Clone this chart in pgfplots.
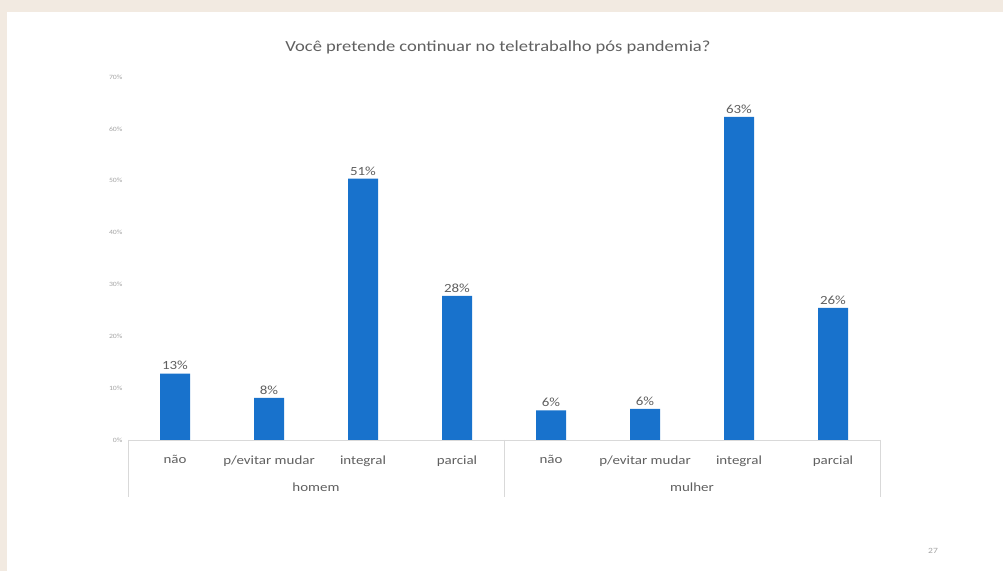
\documentclass[border=0pt]{standalone}
\usepackage{pgfplots}
\pgfplotsset{compat=1.18}
\usepackage{fontspec}
\setmainfont{Carlito}[FakeStretch=1.2]
\definecolor{barblue}{RGB}{24,114,204}
\definecolor{bgbeige}{RGB}{242,234,225}
\definecolor{txtgray}{RGB}{96,96,96}
\definecolor{ticklgray}{RGB}{165,165,165}
\definecolor{linegray}{RGB}{217,217,217}
\begin{document}
\begin{tikzpicture}
\useasboundingbox (0,0) rectangle (1003bp,571bp);
\fill[bgbeige] (0,0) rectangle (1003bp,571bp);
\fill[white] (7bp,0) rectangle (1003bp,559bp);
\node[text=txtgray, font=\fontsize{15.5}{19}\selectfont] at (498bp,524bp) {Você pretende continuar no teletrabalho pós pandemia?};
\node[text=ticklgray, font=\fontsize{8}{9}\selectfont] at (933bp,20bp) {27};
\begin{axis}[
  at={(128bp,131bp)}, anchor=south west,
  scale only axis, width=752bp, height=363bp,
  xmin=-0.5, xmax=7.5, ymin=0, ymax=70,
  clip=false,
  axis line style={draw=none},
  axis x line*=bottom,
  ytick={0,10,20,30,40,50,60,70},
  yticklabels={0\%,10\%,20\%,30\%,40\%,50\%,60\%,70\%},
  yticklabel style={text=ticklgray, font=\fontsize{6.5}{7}\selectfont, xshift=-2bp},
  xtick={0,1,2,3,4,5,6,7},
  xticklabels={não,p/evitar mudar,integral,parcial,não,p/evitar mudar,integral,parcial},
  xticklabel style={text=txtgray, font=\fontsize{12.5}{14}\selectfont, yshift=-12bp},
  major tick length=0pt,
  tick style={draw=none},
  ybar, bar width=30bp,
  nodes near coords={\pgfplotspointmeta\%},
  point meta=explicit symbolic,
  every node near coord/.append style={text=txtgray, font=\fontsize{12.5}{14}\selectfont},
]
\addplot[fill=barblue, draw=none] table[meta=lab] {
x y lab
0 12.8 13
1 8.1 8
2 50.4 51
3 27.8 28
4 5.7 6
5 6.0 6
6 62.3 63
7 25.5 26
};
\draw[linegray] (axis cs:-0.5,0) -- (axis cs:7.5,0);
\draw[linegray] (axis cs:-0.5,0) -- (axis cs:-0.5,-11);
\draw[linegray] (axis cs:3.5,0) -- (axis cs:3.5,-11);
\draw[linegray] (axis cs:7.5,0) -- (axis cs:7.5,-11);
\node[text=txtgray, font=\fontsize{12.5}{14}\selectfont] at (axis cs:1.5,-9.1) {homem};
\node[text=txtgray, font=\fontsize{12.5}{14}\selectfont] at (axis cs:5.5,-9.1) {mulher};
\end{axis}
\end{tikzpicture}
\end{document}
